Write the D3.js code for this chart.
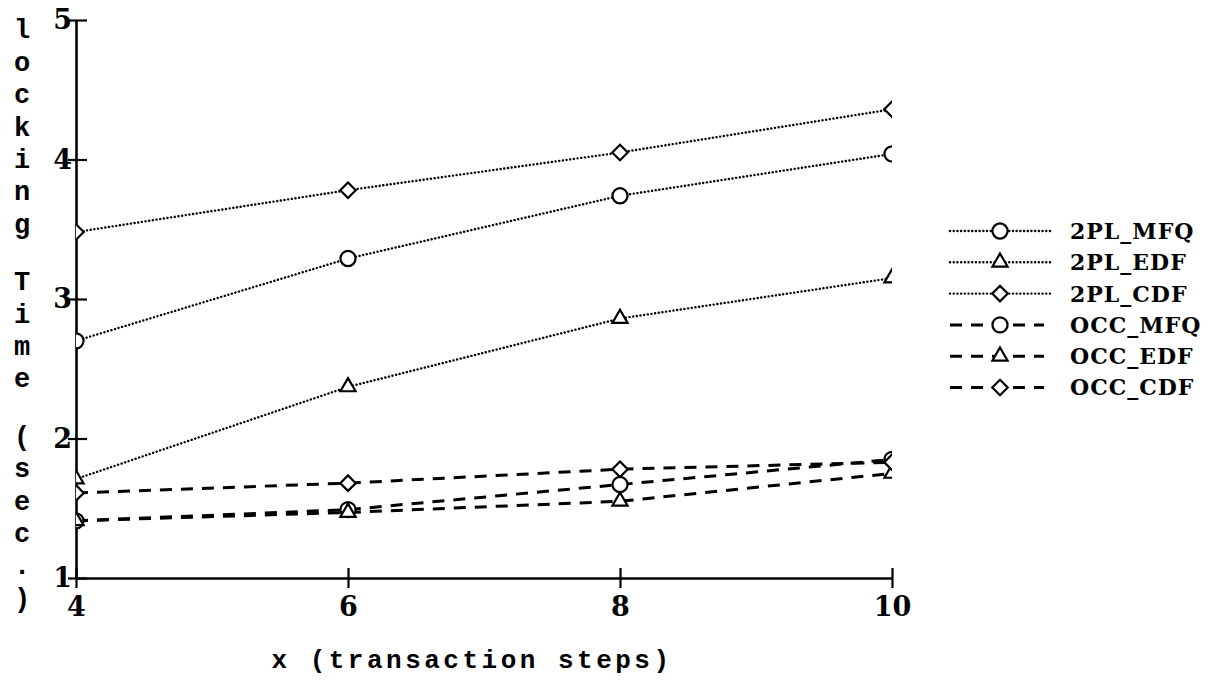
<!DOCTYPE html>
<html>
<head>
<meta charset="utf-8">
<script src="https://cdn.jsdelivr.net/npm/d3@7"></script>
<style>
  body { margin: 0; background: #fff; }
  .serif { font-family: "DejaVu Serif", "Liberation Serif", serif; font-weight: bold; }
  .mono { font-family: "Liberation Mono", "DejaVu Sans Mono", monospace; font-weight: bold; }
</style>
</head>
<body>
<div id="main"></div>
<script>
// x values and tick labels
const xSteps = [4, 6, 8, 10]
const yTicks = [1, 2, 3, 4, 5]

// locking time (sec.) per series
const pl2MFQ = [2.70, 3.29, 3.74, 4.04]
const pl2EDF = [1.71, 2.37, 2.86, 3.15]
const pl2CDF = [3.48, 3.78, 4.05, 4.36]
const occMFQ = [1.41, 1.49, 1.67, 1.85]
const occEDF = [1.41, 1.47, 1.55, 1.75]
const occCDF = [1.61, 1.68, 1.78, 1.83]

const seriesNames = ['2PL_MFQ', '2PL_EDF', '2PL_CDF', 'OCC_MFQ', 'OCC_EDF', 'OCC_CDF']
const yLabel = 'locking Time (sec.)'
const xLabel = 'x (transaction steps)'

const ctx = {
    w: 1214,
    h: 696,
    left: 76,
    right: 892,
    top: 20,
    bottom: 578
}

function createViz() {
    let svgEl = d3.select('#main').append('svg')
    svgEl.attr('width', ctx.w)
    svgEl.attr('height', ctx.h)
    let rootG = svgEl.append('g').attr('id', 'rootG')

    let xScale = d3.scaleLinear().domain([4, 10]).range([ctx.left, ctx.right])
    let yScale = d3.scaleLinear().domain([1, 5]).range([ctx.bottom, ctx.top])

    let values = [pl2MFQ, pl2EDF, pl2CDF, occMFQ, occEDF, occCDF]
    let series = seriesNames.map((name, i) => ({
        name: name,
        dashed: name.startsWith('OCC'),
        shape: ['circle', 'triangle', 'diamond'][i % 3],
        points: xSteps.map((x, j) => ({ x: x, y: values[i][j] }))
    }))

    drawAxes(rootG, xScale, yScale)
    drawLines(svgEl, rootG, series, xScale, yScale)
    drawLegend(rootG, series)
}

function lineStyle(sel, dashed) {
    sel.attr('fill', 'none')
        .attr('stroke', 'black')
    if (dashed) {
        sel.attr('stroke-width', 3).attr('stroke-dasharray', '12,9')
    } else {
        sel.attr('stroke-width', 2.4)
            .attr('stroke-linecap', 'round')
            .attr('stroke-dasharray', '0.1,3.6')
    }
}

function marker(shape) {
    if (shape == 'circle') return d3.symbol().type(d3.symbolCircle).size(180)()
    if (shape == 'triangle') return d3.symbol().type(d3.symbolTriangle).size(100)()
    return d3.symbol().type(d3.symbolSquare).size(120)()
}

function drawMarker(g, shape, cx, cy) {
    g.append('path')
        .attr('d', marker(shape))
        .attr('transform', `translate(${cx},${cy})` + (shape == 'diamond' ? ' rotate(45)' : ''))
        .attr('fill', 'white')
        .attr('stroke', 'black')
        .attr('stroke-width', 2.2)
}

function drawAxes(canvas, xScale, yScale) {
    let xAxis = canvas.append('g')
        .attr('transform', `translate(0,${ctx.bottom})`)
        .call(d3.axisBottom(xScale).tickValues(xSteps).tickFormat(d3.format('d')).tickSizeOuter(0))
    xAxis.select('.domain').attr('stroke-width', 2.6)
    xAxis.selectAll('.tick line').attr('y1', -10).attr('y2', 10).attr('stroke-width', 2.2)
    xAxis.selectAll('.tick text')
        .attr('y', 38).attr('dy', 0)
        .attr('class', 'serif')
        .attr('font-size', 27).attr('fill', 'black')

    let yAxis = canvas.append('g')
        .attr('transform', `translate(${ctx.left},0)`)
        .call(d3.axisLeft(yScale).tickValues(yTicks).tickFormat(d3.format('d')).tickSizeOuter(0))
    yAxis.select('.domain').attr('stroke-width', 2.6)
    yAxis.selectAll('.tick line').attr('x1', 11).attr('x2', -8).attr('stroke-width', 2.2)
    yAxis.selectAll('.tick text')
        .attr('x', -4)
        .attr('class', 'serif')
        .attr('font-size', 27).attr('fill', 'black')

    // y label, one letter per row
    let letters = []
    let yPos = 29
    yLabel.split('').forEach(c => {
        if (c == ' ') { yPos += 25; return }
        letters.push({ c: c, y: yPos })
        yPos += 32.4
    })
    canvas.append('g').selectAll('text')
        .data(letters)
        .join('text')
        .attr('class', 'mono')
        .attr('x', 22)
        .attr('y', d => d.y)
        .attr('dy', '0.35em')
        .attr('text-anchor', 'middle')
        .attr('font-size', 27)
        .text(d => d.c)

    canvas.append('text')
        .attr('class', 'mono')
        .attr('x', 472)
        .attr('y', 668)
        .attr('text-anchor', 'middle')
        .attr('font-size', 26)
        .attr('letter-spacing', 3.5)
        .text(xLabel)
}

function drawLines(svgEl, canvas, series, xScale, yScale) {
    svgEl.append('defs').append('clipPath').attr('id', 'plotClip')
        .append('rect')
        .attr('x', ctx.left).attr('y', 0)
        .attr('width', ctx.right - ctx.left).attr('height', ctx.bottom)

    let plot = canvas.append('g').attr('clip-path', 'url(#plotClip)')
    let line = d3.line().x(d => xScale(d.x)).y(d => yScale(d.y))

    series.forEach(s => {
        plot.append('path')
            .datum(s.points)
            .call(lineStyle, s.dashed)
            .attr('d', line)
    })
    series.forEach(s => {
        s.points.forEach(p => drawMarker(plot, s.shape, xScale(p.x), yScale(p.y)))
    })
}

function drawLegend(canvas, series) {
    let lg = canvas.append('g').attr('id', 'legend')
    series.forEach((s, i) => {
        let y = 231 + i * 31.3
        lg.append('line')
            .attr('x1', 950).attr('x2', s.dashed ? 1044 : 1052)
            .attr('y1', y).attr('y2', y)
            .call(lineStyle, s.dashed)
        drawMarker(lg, s.shape, 1000, y)
        lg.append('text')
            .attr('class', 'serif')
            .attr('x', 1070)
            .attr('y', y)
            .attr('dy', '0.36em')
            .attr('font-size', 22)
            .attr('letter-spacing', 1)
            .text(s.name)
    })
}

createViz()
</script>
</body>
</html>
